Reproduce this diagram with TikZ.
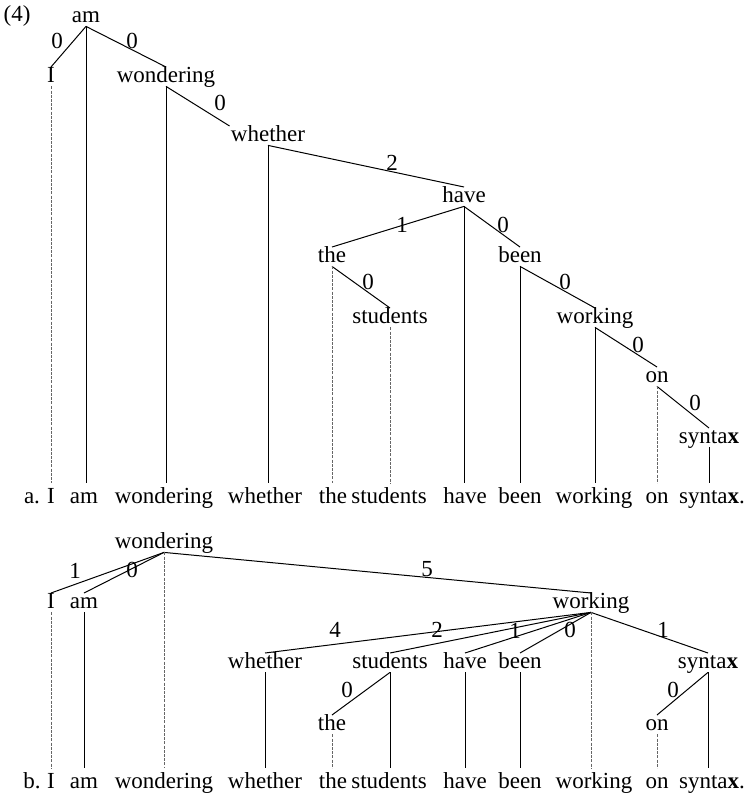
\documentclass[tikz,border=0pt]{standalone}
\usepackage{fontspec}
\setmainfont{Liberation Serif}
\usepackage{tikz}
\usetikzlibrary{positioning}

\begin{document}
\begin{tikzpicture}[
			x=0.5pt, y=-0.5pt,
			every node/.style={font=\fontsize{11.5}{13}\selectfont, inner sep=0.5pt, text height=0.68em, text depth=0.15em, anchor=base},
			sent/.style={inner ysep=3pt},
			edge/.style={line width=0.5pt},
			gap/.style={line width=0.4pt, black!60, dash pattern=on 1.5pt off 0.6pt},
			num/.style={anchor=center}
		]
		\useasboundingbox (0,0) rectangle (747,798);

		% (a) the tree
		\node (four) at (17,21) {(4)};
		\node (aAm) at (86,22) {am};
		\node (aI) at (51,82) {I};
		\node (aWond) at (166,82) {wondering};
		\node (aWhe) at (268,141) {whether};
		\node (aHave) at (464,202) {have};
		\node (aThe) at (332,262) {the};
		\node (aBeen) at (520,262) {been};
		\node (aStud) at (390,323) {students};
		\node (aWork) at (595,323) {working};
		\node (aOn) at (657,382) {on};
		\node (aSyn) at (709,443) {synta\textbf{x}};

		\node[sent] (aS0) at (32,503) {a.};
		\node[sent] (aS1) at (51,503) {I};
		\node[sent] (aS2) at (84,503) {am};
		\node[sent] (aS3) at (164,503) {wondering};
		\node[sent] (aS4) at (265,503) {whether};
		\node[sent] (aS5) at (333,503) {the};
		\node[sent] (aS6) at (389,503) {students};
		\node[sent] (aS7) at (465,503) {have};
		\node[sent] (aS8) at (520,503) {been};
		\node[sent] (aS9) at (594,503) {working};
		\node[sent] (aS10) at (657,503) {on};
		\node[sent] (aS11) at (712,503) {synta\textbf{x}.};

		\draw[edge] (aAm.south)--(aI.north);
		\draw[edge] (aAm.south)--(aWond.north);
		\draw[edge] (aWond.south)--(aWhe.north west);
		\draw[edge] (aWhe.south)--(aHave.north);
		\draw[edge] (aHave.south)--(aThe.north);
		\draw[edge] (aHave.south)--(aBeen.north);
		\draw[edge] (aThe.south)--(aStud.north);
		\draw[edge] (aBeen.south)--(aWork.north);
		\draw[edge] (aWork.south)--(aOn.north);
		\draw[edge] (aOn.south)--(aSyn.north);

		% projection lines
		\draw[gap] (aI.south)--(aI.south |- aS1.north);
		\draw[edge] (aAm.south)--(aAm.south |- aS2.north);
		\draw[edge] (aWond.south)--(aWond.south |- aS3.north);
		\draw[edge] (aWhe.south)--(aWhe.south |- aS4.north);
		\draw[gap] (aThe.south)--(aThe.south |- aS5.north);
		\draw[gap] (aStud.south)--(aStud.south |- aS6.north);
		\draw[edge] (aHave.south)--(aHave.south |- aS7.north);
		\draw[edge] (aBeen.south)--(aBeen.south |- aS8.north);
		\draw[edge] (aWork.south)--(aWork.south |- aS9.north);
		\draw[gap] (aOn.south)--(aOn.south |- aS10.north);
		\draw[edge] (aSyn.south)--(aSyn.south |- aS11.north);

		% dependency distances
		\node[num] (la1) at (57,43) {0};
		\node[num] (la2) at (132,43) {0};
		\node[num] (la3) at (220,105) {0};
		\node[num] (la4) at (392,165) {2};
		\node[num] (la5) at (402,227) {1};
		\node[num] (la6) at (503,227) {0};
		\node[num] (la7) at (368,284) {0};
		\node[num] (la8) at (565,284) {0};
		\node[num] (la9) at (638,347) {0};
		\node[num] (la10) at (695,405) {0};

		% (b) the tree
		\node (bWond) at (164,548) {wondering};
		\node (bI) at (51,608) {I};
		\node (bAm) at (84,608) {am};
		\node (bWork) at (591,608) {working};
		\node (bWhe) at (265,668) {whether};
		\node (bStud) at (390,668) {students};
		\node (bHave) at (465,668) {have};
		\node (bBeen) at (520,668) {been};
		\node (bSyn) at (708,668) {synta\textbf{x}};
		\node (bThe) at (332,730) {the};
		\node (bOn) at (657,730) {on};

		\node[sent] (bS0) at (32,788) {b.};
		\node[sent] (bS1) at (51,788) {I};
		\node[sent] (bS2) at (84,788) {am};
		\node[sent] (bS3) at (164,788) {wondering};
		\node[sent] (bS4) at (265,788) {whether};
		\node[sent] (bS5) at (333,788) {the};
		\node[sent] (bS6) at (389,788) {students};
		\node[sent] (bS7) at (465,788) {have};
		\node[sent] (bS8) at (520,788) {been};
		\node[sent] (bS9) at (594,788) {working};
		\node[sent] (bS10) at (657,788) {on};
		\node[sent] (bS11) at (712,788) {synta\textbf{x}.};

		\draw[edge] (bWond.south)--(bI.north);
		\draw[edge] (bWond.south)--(bAm.north);
		\draw[edge] (bWond.south)--(bWork.north);
		\draw[edge] (bWork.south)--(bWhe.north);
		\draw[edge] (bWork.south)--(bStud.north);
		\draw[edge] (bWork.south)--(bHave.north);
		\draw[edge] (bWork.south)--(bBeen.north);
		\draw[edge] (bWork.south)--(bSyn.north);
		\draw[edge] (bStud.south)--(bThe.north);
		\draw[edge] (bSyn.south)--(bOn.north);

		% projection lines
		\draw[gap] (bI.south)--(bI.south |- bS1.north);
		\draw[edge] (bAm.south)--(bAm.south |- bS2.north);
		\draw[gap] (bWond.south)--(bWond.south |- bS3.north);
		\draw[edge] (bWhe.south)--(bWhe.south |- bS4.north);
		\draw[gap] (bThe.south)--(bThe.south |- bS5.north);
		\draw[edge] (bStud.south)--(bStud.south |- bS6.north);
		\draw[edge] (bHave.south)--(bHave.south |- bS7.north);
		\draw[edge] (bBeen.south)--(bBeen.south |- bS8.north);
		\draw[gap] (bWork.south)--(bWork.south |- bS9.north);
		\draw[gap] (bOn.south)--(bOn.south |- bS10.north);
		\draw[edge] (bSyn.south)--(bSyn.south |- bS11.north);

		% dependency distances
		\node[num] (lb1) at (75,573) {1};
		\node[num] (lb2) at (132,572) {0};
		\node[num] (lb3) at (427,571) {5};
		\node[num] (lb4) at (335,632) {4};
		\node[num] (lb5) at (437,632) {2};
		\node[num] (lb6) at (515,633) {1};
		\node[num] (lb7) at (570,632) {0};
		\node[num] (lb8) at (663,632) {1};
		\node[num] (lb9) at (347,692) {0};
		\node[num] (lb10) at (673,692) {0};
	\end{tikzpicture}
\end{document}
